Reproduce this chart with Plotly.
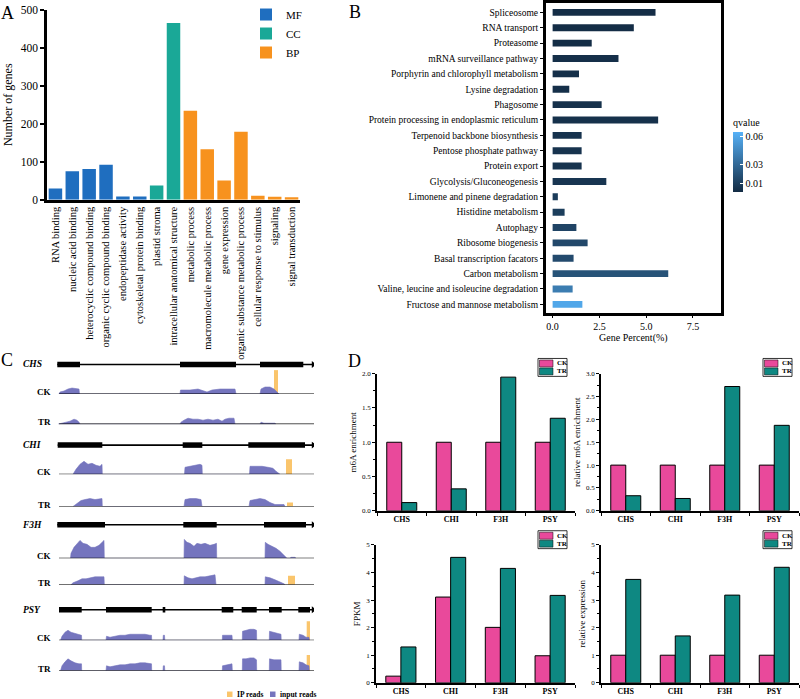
import plotly.graph_objects as go

W, H = 800, 699
SERIF = "Liberation Serif, Times New Roman, serif"

# ------------------------- Panel A data -------------------------
go_terms = ["RNA binding", "nucleic acid binding", "heterocyclic compound binding",
            "organic cyclic compound binding", "endopeptidase activity",
            "cytoskeletal protein binding", "plastid stroma",
            "intracellular anatomical structure", "metabolic process",
            "macromolecule metabolic process", "gene expression",
            "organic substance metabolic process", "cellular response to stimulus",
            "signaling", "signal transduction"]
go_counts = [30, 75, 81, 92, 9, 9, 38, 465, 234, 133, 51, 179, 11, 8, 7]
go_class = ["MF", "MF", "MF", "MF", "MF", "MF", "CC", "CC",
            "BP", "BP", "BP", "BP", "BP", "BP", "BP"]
go_class_names = ["MF", "CC", "BP"]

# ------------------------- Panel B data -------------------------
pathways = ["Spliceosome", "RNA transport", "Proteasome", "mRNA surveillance pathway",
            "Porphyrin and chlorophyll metabolism", "Lysine degradation", "Phagosome",
            "Protein processing in endoplasmic reticulum",
            "Terpenoid backbone biosynthesis", "Pentose phosphate pathway",
            "Protein export", "Glycolysis/Gluconeogenesis",
            "Limonene and pinene degradation", "Histidine metabolism", "Autophagy",
            "Ribosome biogenesis", "Basal transcription facators", "Carbon metabolism",
            "Valine, leucine and isoleucine degradation",
            "Fructose and mannose metabolism"]
gene_percent = [5.50, 4.34, 2.09, 3.52, 1.41, 0.89, 2.62, 5.64, 1.55, 1.55,
                1.55, 2.87, 0.28, 0.64, 1.27, 1.87, 1.12, 6.18, 1.07, 1.59]
qvalues = [0.002, 0.002, 0.002, 0.003, 0.003, 0.003, 0.004, 0.004, 0.005, 0.005,
           0.005, 0.006, 0.009, 0.010, 0.013, 0.015, 0.016, 0.020, 0.040, 0.060]

# ------------------------- Panel C data (bp, read depth) -------------------------
c_genes = ["CHS", "CHI", "F3H", "PSY"]
track_span = [20, 2570]

chs_span = [3, 2563]
chs_exons = [[3, 230], [1230, 1790], [2030, 2463]]
chs_ck_x = [20, 30, 70, 110, 150, 190, 220, 225,
            1230, 1235, 1330, 1410, 1460, 1500, 1550, 1630, 1710, 1780, 1790,
            2030, 2040, 2080, 2130, 2170, 2200, 2220]
chs_ck_y = [0, 2, 3, 5, 6, 5, 5, 0,
            0, 4, 4, 5, 3, 2, 4, 5, 5, 5, 0,
            0, 5, 7, 7, 5, 2, 0]
chs_tr_x = [10, 50, 90, 130, 170, 200, 220, 230,
            1230, 1240, 1270, 1310, 1360, 1410, 1460, 1510, 1560, 1610, 1650, 1680, 1720, 1770, 1780,
            2030, 2040, 2070, 2110, 2150, 2180, 2190]
chs_tr_y = [0, 1, 2, 3, 5, 4, 2, 0,
            0, 2, 4, 6, 5, 5, 4, 5, 4, 5, 3, 5, 6, 6, 0,
            0, 2, 1, 1, 1, 1, 0]
chs_ip_ck = [2170, 2210, 24]
chs_ip_tr = [2170, 2210, 0]

chi_span = [7, 2563]
chi_exons = [[7, 453], [1257, 1453], [1913, 2480]]
chi_ck_x = [160, 190, 230, 270, 310, 350, 390, 430, 450, 453,
            1275, 1280, 1330, 1380, 1430, 1450, 1453,
            1925, 1930, 1990, 2050, 2110, 2160, 2190, 2230]
chi_ck_y = [0, 5, 10, 13, 10, 11, 9, 8, 10, 0,
            0, 7, 8, 9, 10, 9, 0,
            0, 8, 8, 8, 7, 6, 3, 0]
chi_tr_x = [160, 200, 240, 280, 330, 380, 430, 450, 453,
            1270, 1280, 1330, 1390, 1440, 1450,
            1920, 1930, 1980, 2030, 2080, 2130, 2180, 2230, 2270, 2280]
chi_tr_y = [0, 3, 6, 7, 8, 7, 8, 8, 0,
            0, 7, 8, 8, 7, 0,
            0, 6, 7, 8, 7, 4, 2, 2, 2, 0]
chi_ip_ck = [2290, 2350, 15]
chi_ip_tr = [2300, 2360, 4]

f3h_span = [3, 2563]
f3h_exons = [[3, 480], [1263, 1597], [2070, 2490]]
f3h_ck_x = [135, 140, 170, 210, 230, 260, 300, 340, 380, 420, 450, 470, 473,
            1270, 1273, 1300, 1330, 1370, 1400, 1440, 1480, 1530, 1570, 1595, 1597,
            2080, 2083, 2110, 2150, 2190, 2230, 2260, 2290, 2300, 2330, 2340, 2380, 2390]
f3h_ck_y = [0, 5, 11, 16, 18, 15, 14, 11, 11, 13, 16, 18, 0,
            0, 19, 16, 15, 12, 15, 14, 15, 13, 14, 15, 0,
            0, 16, 14, 12, 10, 7, 4, 1, 0, 0, 1, 1, 0]
f3h_tr_x = [140, 160, 210, 250, 290, 330, 380, 430, 470, 473,
            1270, 1273, 1310, 1350, 1390, 1430, 1480, 1530, 1580, 1590,
            2080, 2083, 2130, 2180, 2230, 2270, 2280]
f3h_tr_y = [0, 2, 4, 6, 6, 7, 8, 8, 8, 0,
            0, 9, 7, 6, 7, 8, 8, 9, 10, 0,
            0, 8, 7, 5, 3, 1, 0]
f3h_ip_ck = [2310, 2380, 0]
f3h_ip_tr = [2310, 2380, 9]

psy_span = [20, 2563]
psy_exons = [[20, 247], [490, 947], [1057, 1083], [1647, 1763],
             [1847, 1997], [2120, 2247], [2413, 2530]]
psy_ck_x = [35, 50, 80, 110, 140, 180, 220, 245, 247,
            490, 495, 530, 580, 630, 680, 730, 780, 830, 880, 930, 945, 947,
            1060, 1063, 1075, 1078,
            1653, 1655, 1750, 1753,
            1853, 1855, 1890, 1930, 1970, 1995, 1997,
            2123, 2125, 2170, 2210, 2240, 2242,
            2420, 2423, 2460, 2490, 2520, 2523]
psy_ck_y = [0, 4, 8, 10, 8, 7, 6, 5, 0,
            0, 4, 3, 4, 5, 5, 6, 6, 6, 6, 5, 5, 0,
            0, 5, 5, 0,
            0, 5, 5, 0,
            0, 9, 10, 11, 11, 10, 0,
            0, 9, 8, 7, 6, 0,
            0, 6, 5, 3, 3, 0]
psy_tr_x = [35, 50, 80, 110, 140, 180, 220, 245, 247,
            490, 495, 530, 580, 630, 680, 730, 780, 830, 880, 930, 945, 947,
            1060, 1063, 1075, 1078,
            1653, 1655, 1700, 1750, 1753,
            1853, 1855, 1890, 1930, 1970, 1995, 1997,
            2123, 2125, 2170, 2210, 2240, 2242,
            2420, 2423, 2460, 2490, 2520, 2523]
psy_tr_y = [0, 5, 9, 12, 10, 8, 7, 7, 0,
            0, 5, 4, 5, 6, 6, 7, 7, 8, 8, 7, 7, 0,
            0, 5, 5, 0,
            0, 5, 6, 7, 0,
            0, 12, 12, 13, 13, 11, 0,
            0, 12, 11, 11, 11, 0,
            0, 9, 8, 6, 5, 0]
psy_ip_ck = [2497, 2530, 19]
psy_ip_tr = [2497, 2530, 16]

# ------------------------- Panel D data -------------------------
d_genes = ["CHS", "CHI", "F3H", "PSY"]
m6a_ck = [1.0, 1.0, 1.0, 1.0]
m6a_tr = [0.12, 0.32, 1.95, 1.35]
rel_m6a_ck = [1.0, 1.0, 1.0, 1.0]
rel_m6a_tr = [0.33, 0.27, 2.72, 1.87]
fpkm_ck = [0.24, 3.11, 2.01, 0.98]
fpkm_tr = [1.30, 4.55, 4.15, 3.17]
relexp_ck = [1.0, 1.0, 1.0, 1.0]
relexp_tr = [3.75, 1.70, 3.18, 4.19]

# ------------------------- styling -------------------------
class_colors = {"MF": "#1f6ebf", "CC": "#1aa897", "BP": "#f7921e"}
purple = "#7575be"
orange = "#fac56c"
pink = "#e9499b"
teal = "#0e8882"


def fx(px):
    return px / W


def fy(py):
    return 1 - py / H


fig = go.Figure()
layout = {}
annotations = []
shapes = []


def paper_rect(x0, y0, x1, y1, fill, line_color=None, line_width=0):
    shapes.append(dict(type="rect", xref="paper", yref="paper", x0=fx(x0), x1=fx(x1),
                       y0=fy(y1), y1=fy(y0), fillcolor=fill, layer="above",
                       line=dict(color=line_color or fill, width=line_width)))


def paper_text(x, y, text, size, xanchor="center", weight="normal", italic=False):
    annotations.append(dict(x=fx(x), y=fy(y), xref="paper", yref="paper", text=text,
                            showarrow=False, xanchor=xanchor, yanchor="middle",
                            font=dict(family=SERIF, size=size, color="black", weight=weight,
                                      style="italic" if italic else "normal")))


# ------------------------- Panel A -------------------------
for cls in go_class_names:
    xs = [t for t, c in zip(go_terms, go_class) if c == cls]
    ys = [v for v, c in zip(go_counts, go_class) if c == cls]
    fig.add_trace(go.Bar(x=xs, y=ys, name=cls, width=0.8, marker_color=class_colors[cls],
                         marker_line_width=0, xaxis="x", yaxis="y", legend="legend"))
layout["xaxis"] = dict(domain=[fx(47), fx(300)], anchor="y", type="category",
                       categoryorder="array", categoryarray=go_terms, range=[-0.5, 14.5],
                       showline=True, linecolor="black", linewidth=2.5, ticks="",
                       tickangle=-90, tickfont=dict(family=SERIF, size=10.5, color="black"),
                       showgrid=False, zeroline=False)
layout["yaxis"] = dict(domain=[fy(197.7), fy(6.7)], anchor="x", range=[0, 500], dtick=100,
                       showline=True, linecolor="black", linewidth=2.5, ticks="outside",
                       ticklen=4, tickwidth=1.5, tickcolor="black",
                       tickfont=dict(family=SERIF, size=11.5, color="black"),
                       title=dict(text="Number of genes", font=dict(family=SERIF, size=12, color="black"),
                                  standoff=6),
                       showgrid=False, zeroline=False)
layout["legend"] = dict(x=fx(246), y=fy(-3), xanchor="left", yanchor="top",
                        font=dict(family=SERIF, size=11, color="black"), tracegroupgap=0,
                        bgcolor="rgba(0,0,0,0)", itemwidth=30)

# ------------------------- Panel B -------------------------
fig.add_trace(go.Bar(x=gene_percent, y=pathways, orientation="h", width=0.45,
                     marker=dict(color=qvalues, colorscale=[[0, "#132B43"], [1, "#56B1F7"]],
                                 cmin=0.001, cmax=0.065, line_width=0, showscale=True,
                                 colorbar=dict(x=fx(733), xanchor="left", y=fy(113), yanchor="top",
                                               len=76 / H, lenmode="fraction", thickness=10,
                                               xpad=0, ypad=0,
                                               outlinewidth=0, tickvals=[0.01, 0.03, 0.06],
                                               ticktext=["0.01", "0.03", "0.06"], ticks="inside",
                                               ticklen=3, tickcolor="white",
                                               tickfont=dict(family=SERIF, size=10, color="black"),
                                               title=dict(text="qvalue", side="top",
                                                          font=dict(family=SERIF, size=10, color="black")))),
                     xaxis="x2", yaxis="y2", showlegend=False))
layout["xaxis2"] = dict(domain=[fx(545.7), fx(721)], anchor="y2", range=[-0.37, 9.0],
                        tickvals=[0, 2.5, 5.0, 7.5], ticktext=["0.0", "2.5", "5.0", "7.5"],
                        showline=True, mirror=True, linecolor="black", linewidth=2.5,
                        ticks="outside", ticklen=3, tickcolor="black",
                        tickfont=dict(family=SERIF, size=10, color="black"),
                        title=dict(text="Gene Percent(%)", font=dict(family=SERIF, size=10, color="black"),
                                   standoff=0),
                        showgrid=False, zeroline=False)
layout["yaxis2"] = dict(domain=[fy(311), fy(0.5)], anchor="x2", type="category",
                        categoryorder="array", categoryarray=pathways, range=[19.54, -0.58],
                        showline=True, mirror=True, linecolor="black", linewidth=2.5,
                        ticks="outside", ticklen=3, tickcolor="black",
                        tickfont=dict(family=SERIF, size=9.5, color="black"),
                        showgrid=False, zeroline=False)

# ------------------------- Panel C -------------------------
gene_row_px = [363, 444, 524, 609.3]
ck_base_px = [392.7, 473.3, 557.7, 640]
tr_base_px = [423, 505.7, 584.3, 670.7]
c_spans = [chs_span, chi_span, f3h_span, psy_span]
c_exons = [chs_exons, chi_exons, f3h_exons, psy_exons]
c_ck = [(chs_ck_x, chs_ck_y), (chi_ck_x, chi_ck_y), (f3h_ck_x, f3h_ck_y), (psy_ck_x, psy_ck_y)]
c_tr = [(chs_tr_x, chs_tr_y), (chi_tr_x, chi_tr_y), (f3h_tr_x, f3h_tr_y), (psy_tr_x, psy_tr_y)]
c_ip_ck = [chs_ip_ck, chi_ip_ck, f3h_ip_ck, psy_ip_ck]
c_ip_tr = [chs_ip_tr, chi_ip_tr, f3h_ip_tr, psy_ip_tr]

layout["xaxis3"] = dict(domain=[fx(57), fx(314)], anchor="y3", range=[0, 2570], visible=False,
                        showgrid=False, zeroline=False)
yi = 3
for i, g in enumerate(c_genes):
    yname = "y%d" % yi
    layout["yaxis%d" % yi] = dict(domain=[fy(gene_row_px[i] + 6), fy(gene_row_px[i] - 6)],
                                  anchor="x3", range=[-1, 1], visible=False,
                                  showgrid=False, zeroline=False)
    span = c_spans[i]
    fig.add_trace(go.Scatter(x=span, y=[0, 0], mode="lines", line=dict(color="black", width=1.6),
                             xaxis="x3", yaxis=yname, showlegend=False, hoverinfo="skip"))
    ex_x, ex_y = [], []
    for s, e in c_exons[i]:
        ex_x += [s, e, None]
        ex_y += [0, 0, None]
    fig.add_trace(go.Scatter(x=ex_x, y=ex_y, mode="lines", line=dict(color="black", width=5.5),
                             xaxis="x3", yaxis=yname, showlegend=False, hoverinfo="skip"))
    fig.add_trace(go.Scatter(x=[span[1]], y=[0], mode="markers",
                             marker=dict(symbol="triangle-right", size=6, color="black"),
                             xaxis="x3", yaxis=yname, showlegend=False, hoverinfo="skip"))
    paper_text(32, gene_row_px[i], g, 9.5, weight="bold", italic=True)
    yi += 1
    for base, (cx, cy), ip, lab in [(ck_base_px[i], c_ck[i], c_ip_ck[i], "CK"),
                                      (tr_base_px[i], c_tr[i], c_ip_tr[i], "TR")]:
        yname = "y%d" % yi
        layout["yaxis%d" % yi] = dict(domain=[fy(base), fy(base - 25)], anchor="x3",
                                      range=[0, 25], visible=False, showgrid=False, zeroline=False)
        if ip[2] > 0:
            fig.add_trace(go.Bar(x=[(ip[0] + ip[1]) / 2], y=[ip[2]], width=[ip[1] - ip[0]],
                                 marker=dict(color=orange, line_width=0), name="IP reads",
                                 showlegend=False, xaxis="x3", yaxis=yname))
        fig.add_trace(go.Scatter(x=cx, y=cy, mode="lines", fill="tozeroy", fillcolor=purple,
                                 line=dict(color=purple, width=0.6), name="input reads",
                                 showlegend=False, xaxis="x3", yaxis=yname))
        fig.add_trace(go.Scatter(x=track_span, y=[0, 0], mode="lines",
                                 line=dict(color="black", width=1.2), showlegend=False,
                                 xaxis="x3", yaxis=yname, hoverinfo="skip"))
        paper_text(44, base - 2, lab, 9, weight="bold")
        yi += 1

# Panel C key
paper_rect(227, 691.5, 232.5, 697, orange)
paper_text(235, 694, "IP reads", 7.5, xanchor="left", weight="bold")
paper_rect(270, 691.5, 275.5, 697, purple)
paper_text(278, 694, "input reads", 7.5, xanchor="left", weight="bold")

# ------------------------- Panel D -------------------------
d_specs = [
    ("x4", "y15", [377, 575], [510, 372.3], [0, 2], 0.5, m6a_ck, m6a_tr, "m6A enrichment", (538, 357)),
    ("x5", "y16", [601, 799], [510, 372.3], [0, 3], 0.5, rel_m6a_ck, rel_m6a_tr,
     "relative m6A enrichment", (763, 357)),
    ("x6", "y17", [376, 575], [682.7, 544.3], [0, 5], 1, fpkm_ck, fpkm_tr, "FPKM", (538, 530)),
    ("x7", "y18", [601, 799], [682.7, 544.3], [0, 5], 1, relexp_ck, relexp_tr,
     "relative expression", (763, 530)),
]
for xa, ya, xdom, ydom, yr, dt, ck, tr, ttl, lpos in d_specs:
    fig.add_trace(go.Bar(x=d_genes, y=ck, name="CK", width=0.303, offset=-0.303,
                         marker=dict(color=pink, line=dict(color="black", width=1)),
                         xaxis=xa, yaxis=ya, showlegend=False))
    fig.add_trace(go.Bar(x=d_genes, y=tr, name="TR", width=0.303, offset=0,
                         marker=dict(color=teal, line=dict(color="black", width=1)),
                         xaxis=xa, yaxis=ya, showlegend=False))
    layout["xaxis" + xa[1:]] = dict(domain=[fx(xdom[0]), fx(xdom[1])], anchor=ya, type="category",
                                    categoryorder="array", categoryarray=d_genes, range=[-0.5, 3.5],
                                    showline=True, linecolor="black", linewidth=1.5,
                                    ticks="outside", tickson="boundaries", ticklen=3,
                                    tickcolor="black",
                                    tickfont=dict(family=SERIF, size=8, color="black", weight="bold"),
                                    showgrid=False, zeroline=False)
    layout["yaxis" + ya[1:]] = dict(domain=[fy(ydom[0]), fy(ydom[1])], anchor=xa, range=yr,
                                    dtick=dt, tickformat=".1f" if dt < 1 else "d",
                                    showline=True, linecolor="black", linewidth=1.5,
                                    ticks="outside", ticklen=3, tickcolor="black",
                                    minor=dict(ticks="outside", ticklen=2, dtick=dt / 2,
                                               tickcolor="black"),
                                    tickfont=dict(family=SERIF, size=7, color="black"),
                                    title=dict(text=ttl, font=dict(family=SERIF, size=9, color="black"),
                                               standoff=4),
                                    showgrid=False, zeroline=False)
    lx, ly = lpos
    paper_rect(lx, ly, lx + 29, ly + 18, "white", "black", 0.8)
    paper_rect(lx + 1.5, ly + 1.5, lx + 15, ly + 8.5, pink, "black", 0.5)
    paper_rect(lx + 1.5, ly + 9.5, lx + 15, ly + 16.5, teal, "black", 0.5)
    paper_text(lx + 16.5, ly + 5, "CK", 7, xanchor="left", weight="bold")
    paper_text(lx + 16.5, ly + 13, "TR", 7, xanchor="left", weight="bold")

# ------------------------- panel letters -------------------------
for letter, (lx, ly) in zip(["A", "B", "C", "D"], [(7, 10), (355, 9), (7, 359), (354, 360)]):
    paper_text(lx, ly, letter, 18)

layout["annotations"] = annotations
layout["shapes"] = shapes
fig.update_layout(**layout)
fig.update_layout(width=W, height=H, margin=dict(l=0, r=0, t=0, b=0), autosize=False,
                  template="none", barmode="overlay", paper_bgcolor="white",
                  plot_bgcolor="rgba(0,0,0,0)", font=dict(family=SERIF, color="black"))

fig.write_html("out.html", config={"displayModeBar": False},
               post_script="document.body.style.margin='0px';document.body.style.padding='0px';"
                           "document.body.style.overflow='hidden';")
